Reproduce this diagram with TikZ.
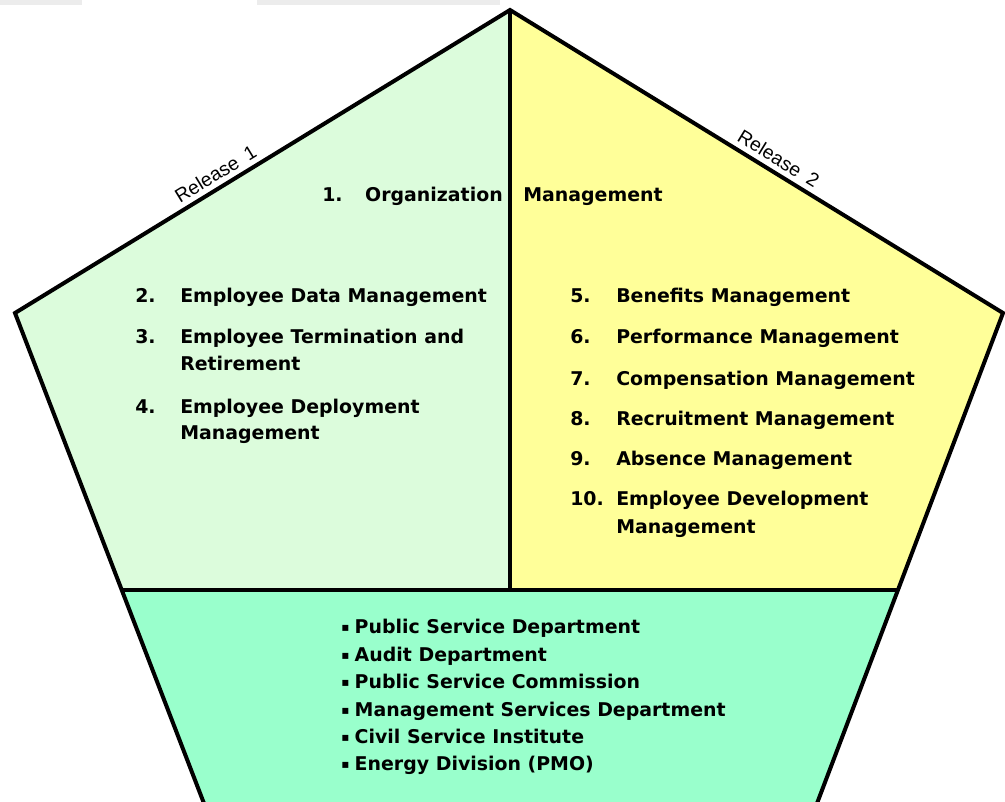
\documentclass[tikz,border=0pt]{standalone}
\usepackage{fontspec}
\setmainfont{DejaVu Sans}
\newfontfamily\relfont{Liberation Sans}
\usetikzlibrary{calc}
\definecolor{lgreen}{RGB}{220,252,220}
\definecolor{lyellow}{RGB}{255,255,153}
\definecolor{mint}{RGB}{153,255,204}
\definecolor{topgrey}{RGB}{236,236,236}
\newcommand{\sqbul}{\raisebox{1.5pt}{\fontsize{9}{9}\selectfont ▪}\hspace{4pt}}
\begin{document}
\begin{tikzpicture}[x=0.75pt,y=-0.75pt,
  outline/.style={draw=black,line width=3pt,line join=miter},
  itemtxt/.style={anchor=base west,inner sep=0pt,font=\bfseries\fontsize{14.2}{20}\selectfont},
  reltxt/.style={font=\relfont\fontsize{14.5}{16}\selectfont,inner sep=1pt}]
\useasboundingbox (0,0) rectangle (1005,801);
\clip (0,0) rectangle (1005,801);
\fill[topgrey] (0,0) rectangle (82,5);
\fill[topgrey] (257,0) rectangle (500,5);
\coordinate (A) at (510,10);
\coordinate (L) at (15,313);
\coordinate (R) at (1003,313);
\coordinate (BL) at (205,806);
\coordinate (BR) at (816,806);
\coordinate (ML) at ($(L)!0.5619!(BL)$);
\coordinate (MR) at ($(R)!0.5619!(BR)$);
\coordinate (MC) at (510,590);
\fill[lgreen] (L) -- (A) -- (MC) -- (ML) -- cycle;
\fill[lyellow] (A) -- (R) -- (MR) -- (MC) -- cycle;
\fill[mint] (ML) -- (MR) -- (BR) -- (BL) -- cycle;
\draw[outline] (A) -- (MC);
\draw[outline] (ML) -- (MR);
\draw[outline] (BL) -- (L) -- (A) -- (R) -- (BR);
\path (L) -- (A) node[pos=0.42,sloped,above=4pt,reltxt] (rel1) {Release\hspace{0.5em}1};
\path (A) -- (R) node[pos=0.53,sloped,above=4pt,reltxt] (rel2) {Release\hspace{0.5em}2};
% item 1
\node[itemtxt] (n1) at (322,201) {1.};
\node[itemtxt,anchor=base east] (t1a) at (503,201) {Organization};
\node[itemtxt] (t1b) at (523,201) {Management};
% left list
\node[itemtxt] (n2) at (135,302) {2.};
\node[itemtxt] (t2) at (180,302) {Employee Data Management};
\node[itemtxt] (n3) at (135,343) {3.};
\node[itemtxt] (t3) at (180,343) {Employee Termination and};
\node[itemtxt] (t3b) at (180,370) {Retirement};
\node[itemtxt] (n4) at (135,413) {4.};
\node[itemtxt] (t4) at (180,413) {Employee Deployment};
\node[itemtxt] (t4b) at (180,439) {Management};
% right list
\node[itemtxt] (n5) at (570,302) {5.};
\node[itemtxt] (t5) at (616,302) {Benefits Management};
\node[itemtxt] (n6) at (570,343) {6.};
\node[itemtxt] (t6) at (616,343) {Performance Management};
\node[itemtxt] (n7) at (570,385) {7.};
\node[itemtxt] (t7) at (616,385) {Compensation Management};
\node[itemtxt] (n8) at (570,425) {8.};
\node[itemtxt] (t8) at (616,425) {Recruitment Management};
\node[itemtxt] (n9) at (570,465) {9.};
\node[itemtxt] (t9) at (616,465) {Absence Management};
\node[itemtxt] (n10) at (570,505) {10.};
\node[itemtxt] (t10) at (616,505) {Employee Development};
\node[itemtxt] (t10b) at (616,533) {Management};
% bottom list
\node[itemtxt] (b1) at (341,633) {\sqbul Public Service Department};
\node[itemtxt] (b2) at (341,661) {\sqbul Audit Department};
\node[itemtxt] (b3) at (341,688) {\sqbul Public Service Commission};
\node[itemtxt] (b4) at (341,716) {\sqbul Management Services Department};
\node[itemtxt] (b5) at (341,743) {\sqbul Civil Service Institute};
\node[itemtxt] (b6) at (341,770) {\sqbul Energy Division (PMO)};
\end{tikzpicture}
\end{document}
